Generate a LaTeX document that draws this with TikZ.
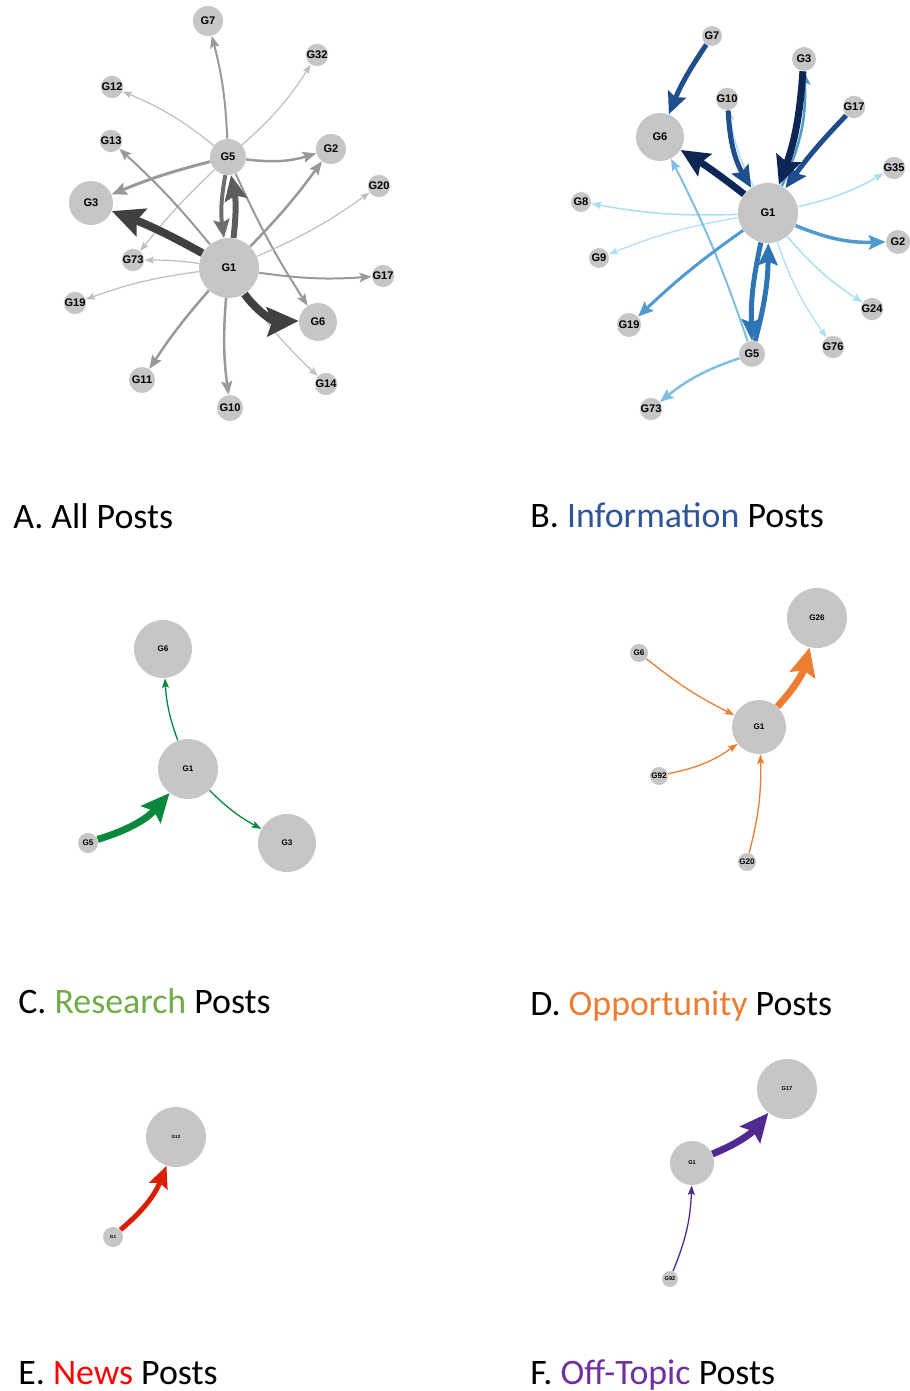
\documentclass[tikz,border=0pt]{standalone}
\usepackage{fontspec}
\setmainfont{Carlito}
\newfontfamily\labfont{Liberation Sans}
\usetikzlibrary{arrows.meta}
\pgfdeclarelayer{edges}
\pgfsetlayers{edges,main}

\definecolor{nodegray}{RGB}{198,198,198}
% panel A greys
\definecolor{gdark}{RGB}{64,64,64}
\definecolor{gdarkb}{RGB}{92,92,92}
\definecolor{gdarkc}{RGB}{110,110,110}
\definecolor{gmid}{RGB}{153,153,153}
\definecolor{glight}{RGB}{190,190,190}
% panel B blues
\definecolor{bnavy}{RGB}{14,38,84}
\definecolor{bdark}{RGB}{31,78,140}
\definecolor{bmid}{RGB}{46,117,182}
\definecolor{bblue}{RGB}{79,155,208}
\definecolor{blmid}{RGB}{127,191,227}
\definecolor{blight}{RGB}{169,223,245}
% other panels
\definecolor{cgreen}{RGB}{8,136,60}
\definecolor{dorange}{RGB}{237,125,49}
\definecolor{ered}{RGB}{216,30,5}
\definecolor{fpurple}{RGB}{80,42,145}
% heading words
\definecolor{tinfo}{RGB}{47,85,151}
\definecolor{tresearch}{RGB}{112,173,71}
\definecolor{topp}{RGB}{237,125,49}
\definecolor{tnews}{RGB}{255,0,0}
\definecolor{toff}{RGB}{112,48,160}

\tikzset{
  gn/.style={circle, fill=nodegray, inner sep=0pt, minimum size=#1*0.04cm},
  lab/.style={font=\labfont\bfseries\fontsize{#1}{#1}\selectfont},
  ed/.style 2 args={draw=#1, line width=#2*0.567pt,
    -{Stealth[length=3pt 3.3, width=1.5pt 3.3, inset=0.6pt 0.5]}},
  heading/.style={anchor=base west, inner sep=0pt, font=\fontsize{20.4}{22}\selectfont},
}

\begin{document}
\begin{tikzpicture}[x=0.02cm, y=0.02cm]
\useasboundingbox (0,0) rectangle (909,-1391);
\begin{pgfonlayer}{edges}
\fill[white] (0,0) rectangle (909,-1391);
\end{pgfonlayer}

% ---------------- A. All posts ----------------
\begin{scope}[every node/.append style={lab=6.3}]
\node[gn=15] (a7)  at (208,-21)  {G7};
\node[gn=10] (a32) at (317,-55)  {G32};
\node[gn=10] (a12) at (112,-87)  {G12};
\node[gn=10] (a13) at (111,-141) {G13};
\node[gn=18] (a5)  at (228,-157) {G5};
\node[gn=15] (a2)  at (331,-149) {G2};
\node[gn=10] (a20) at (379,-186) {G20};
\node[gn=22] (a3)  at (91,-203)  {G3};
\node[gn=9]  (a73) at (133,-260) {G73};
\node[gn=30] (a1)  at (229,-268) {G1};
\node[gn=11] (a17) at (383,-276) {G17};
\node[gn=10] (a19) at (75,-303)  {G19};
\node[gn=19] (a6)  at (318,-322) {G6};
\node[gn=13] (a11) at (142,-380) {G11};
\node[gn=11] (a14) at (326,-384) {G14};
\node[gn=13] (a10) at (230,-408) {G10};
\end{scope}
\begin{pgfonlayer}{edges}
\draw[ed={glight}{1.2}] (a5) to[bend right=8] (a32);
\draw[ed={glight}{1.2}] (a5) to[bend right=8] (a12);
\draw[ed={glight}{1.2}] (a5) to[bend right=4] (a73);
\draw[ed={gmid}{2}]     (a5) to[bend right=6] (a7);
\draw[ed={gmid}{2.5}]   (a5) to[bend right=12] (a2);
\draw[ed={gmid}{3}]     (a5) to[bend right=4] (a3);
\draw[ed={gmid}{2}]     (a5) to[bend right=4] (a6);
\draw[ed={gmid}{2}]     (a1) to[bend right=4] (a13);
\draw[ed={gmid}{2.5}]   (a1) to[bend right=4] (a2);
\draw[ed={glight}{1.2}] (a1) to[bend right=6] (a20);
\draw[ed={gmid}{2}]     (a1) to[bend right=6] (a17);
\draw[ed={glight}{1.2}] (a1) to[bend right=4] (a73);
\draw[ed={glight}{1.2}] (a1) to[bend right=6] (a19);
\draw[ed={gmid}{2.5}]   (a1) to[bend right=4] (a11);
\draw[ed={gmid}{2.5}]   (a1) to[bend right=6] (a10);
\draw[ed={glight}{1.2}] (a1) to[bend right=6] (a14);
\draw[ed={gdarkc}{4}]   (a5) to[bend right=9] (a1);
\draw[ed={gdarkb}{6}]   (a1) to[bend right=9] (a5);
\draw[ed={gdark}{8}]    (a1) to[bend right=4] (a3);
\draw[ed={gdark}{8}]    (a1) to[bend right=28] (a6);
\end{pgfonlayer}

% ---------------- B. Information posts ----------------
\begin{scope}[every node/.append style={lab=6.3}]
\node[gn=10] (b7)  at (712,-36)  {G7};
\node[gn=12] (b3)  at (804,-59)  {G3};
\node[gn=11] (b10) at (727,-99)  {G10};
\node[gn=10] (b17) at (854,-107) {G17};
\node[gn=24] (b6)  at (660,-137) {G6};
\node[gn=11] (b35) at (894,-168) {G35};
\node[gn=10] (b8)  at (581,-202) {G8};
\node[gn=30] (b1)  at (768,-213) {G1};
\node[gn=12] (b2)  at (898,-242) {G2};
\node[gn=10] (b9)  at (599,-258) {G9};
\node[gn=11] (b24) at (872,-309) {G24};
\node[gn=12] (b19) at (629,-325) {G19};
\node[gn=10] (b76) at (833,-347) {G76};
\node[gn=13] (b5)  at (752,-354) {G5};
\node[gn=11] (b73) at (651,-409) {G73};
\end{scope}
\begin{pgfonlayer}{edges}
\draw[ed={blight}{1.5}] (b1) to[bend left=9] (b10);
\draw[ed={blight}{1.5}] (b1) to[bend right=8] (b35);
\draw[ed={blight}{1.5}] (b1) to[bend left=6] (b8);
\draw[ed={blight}{1.2}] (b1) to[bend right=6] (b9);
\draw[ed={blight}{1.5}] (b1) to[bend right=8] (b24);
\draw[ed={blight}{1.2}] (b1) to[bend right=8] (b76);
\draw[ed={blmid}{2}]    (b5) to[bend right=4] (b6);
\draw[ed={blmid}{2.5}]  (b5) to[bend right=10] (b73);
\draw[ed={bblue}{3.5}]  (b1) to[bend right=12] (b2);
\draw[ed={bblue}{3}]    (b1) to[bend right=4] (b19);
\draw[ed={bblue}{2.5}]  (b1) to[bend right=14] (b3);
\draw[ed={bmid}{5}]     (b1) to[bend right=7] (b5);
\draw[ed={bmid}{5}]     (b5) to[bend right=7] (b1);
\draw[ed={bdark}{5}]    (b7) to[bend right=6] (b6);
\draw[ed={bdark}{5}]    (b10) to[bend right=14] (b1);
\draw[ed={bdark}{5}]    (b17) to[bend right=4] (b1);
\draw[ed={bnavy}{7}]    (b3) to[bend left=8] (b1);
\draw[ed={bnavy}{7}]    (b1) to[bend right=3] (b6);
\end{pgfonlayer}

% ---------------- C. Research posts ----------------
\begin{scope}[every node/.append style={lab=4.6}]
\node[gn=29] (c6) at (163,-649) {G6};
\node[gn=30] (c1) at (188,-769) {G1};
\node[gn=10] (c5) at (88,-843)  {G5};
\node[gn=29] (c3) at (287,-843) {G3};
\end{scope}
\begin{pgfonlayer}{edges}
\draw[ed={cgreen}{1.3}] (c1) to[bend left=8] (c6);
\draw[ed={cgreen}{1.3}] (c1) to[bend right=8] (c3);
\draw[ed={cgreen}{7}]   (c5) to[bend right=16] (c1);
\end{pgfonlayer}

% ---------------- D. Opportunity posts ----------------
\begin{scope}[every node/.append style={lab=4.6}]
\node[gn=30] (d26) at (817,-618) {G26};
\node[gn=9]  (d6)  at (639,-653) {G6};
\node[gn=27] (d1)  at (759,-727) {G1};
\node[gn=9]  (d92) at (659,-776) {G92};
\node[gn=9]  (d20) at (747,-862) {G20};
\end{scope}
\begin{pgfonlayer}{edges}
\draw[ed={dorange}{1.3}] (d6) to[bend right=6] (d1);
\draw[ed={dorange}{1.3}] (d92) to[bend right=12] (d1);
\draw[ed={dorange}{1.3}] (d20) to[bend right=8] (d1);
\draw[ed={dorange}{7}]   (d1) to[bend right=14] (d26);
\end{pgfonlayer}

% ---------------- E. News posts ----------------
\begin{scope}[every node/.append style={lab=2.6}]
\node[gn=30] (e12) at (176,-1137) {G12};
\node[gn=10] (e1)  at (113,-1237) {G1};
\end{scope}
\begin{pgfonlayer}{edges}
\draw[ed={ered}{5}] (e1) to[bend right=14] (e12);
\end{pgfonlayer}

% ---------------- F. Off-topic posts ----------------
\begin{scope}[every node/.append style={lab=3.2}]
\node[gn=30] (f17) at (787,-1089) {G17};
\node[gn=22] (f1)  at (692,-1163) {G1};
\node[gn=8]  (f92) at (670,-1279) {G92};
\end{scope}
\begin{pgfonlayer}{edges}
\draw[ed={fpurple}{1.3}] (f92) to[bend right=10] (f1);
\draw[ed={fpurple}{7}]   (f1) to[bend right=14] (f17);
\end{pgfonlayer}

% ---------------- panel headings ----------------
\node[heading] (ta) at (13,-528)   {A. All Posts};
\node[heading] (tb) at (530,-527)  {B. \textcolor{tinfo}{Information} Posts};
\node[heading] (tc) at (18,-1013)  {C. \textcolor{tresearch}{Research} Posts};
\node[heading] (td) at (530,-1015) {D. \textcolor{topp}{Opportunity} Posts};
\node[heading] (te) at (18,-1384)  {E. \textcolor{tnews}{News} Posts};
\node[heading] (tf) at (530,-1384) {F. \textcolor{toff}{Off-Topic} Posts};
\end{tikzpicture}
\end{document}
